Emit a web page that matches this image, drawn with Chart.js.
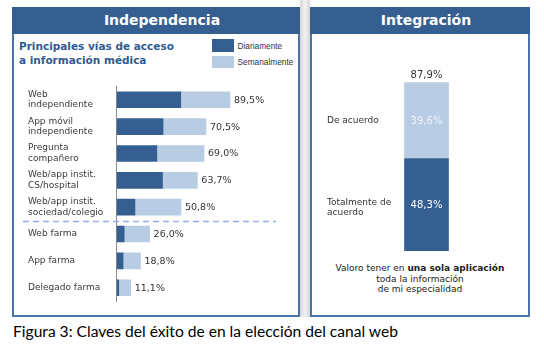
<!DOCTYPE html>
<html>
<head>
<meta charset="utf-8">
<script src="https://cdn.jsdelivr.net/npm/chart.js@4/dist/chart.umd.min.js"></script>
<style>
  body { margin: 0; width: 544px; height: 345px; background: #fff; position: relative; overflow: hidden; font-family: "DejaVu Sans", sans-serif; }
  .panel { position: absolute; top: 7px; height: 310px; box-sizing: border-box; border: 2px solid #4d74a8; }
  .left { left: 12px; width: 288px; background: linear-gradient(#f2f2f2, #fff 30px); }
  .right { left: 310px; width: 220px; background: linear-gradient(#e4e4e4, #fff 32px); }
  .head { position: absolute; top: -2px; left: -2px; right: -2px; height: 27px; background: #365f91; color: #fff;
          font: bold 14px "DejaVu Sans"; line-height: 27px; text-align: center; padding-left: 12px; box-sizing: border-box; }
  .gap { position: absolute; left: 300px; top: 0; width: 10px; height: 317px; background: linear-gradient(90deg, #d6d6d6, #f2f2f2, #d6d6d6); }
  .title { position: absolute; left: 19px; top: 39px; font: bold 10.5px "DejaVu Sans"; line-height: 14px; color: #2f5b92; }
  .sw { position: absolute; left: 212px; width: 22px; }
  .lg { position: absolute; left: 237.5px; font: 8.3px "Liberation Sans"; color: #333; line-height: 10px; }
  .cap { position: absolute; left: 311px; width: 218px; top: 263px; text-align: center; font: 9px "DejaVu Sans"; line-height: 10.5px; color: #222; }
  .fig { position: absolute; left: 13px; top: 322px; font: 15.6px Lato; color: #000; white-space: nowrap; }
  canvas { position: absolute; }
</style>
</head>
<body>
<div class="gap"></div>
<div class="panel left"><div class="head">Independencia</div></div>
<div class="panel right"><div class="head">Integración</div></div>

<div class="title">Principales vías de acceso<br>a información médica</div>
<div class="sw" style="top:39px;height:13px;background:#365f91"></div>
<div class="sw" style="top:56px;height:12px;background:#b8cce4"></div>
<div class="lg" style="top:40.5px">Diariamente</div>
<div class="lg" style="top:57px">Semanalmente</div>

<canvas id="accesoChart" width="284" height="232" style="left:14px;top:80px"></canvas>
<canvas id="integracionChart" width="216" height="201" style="left:312px;top:50px"></canvas>

<div class="cap">Valoro tener en <b>una sola aplicación</b><br>toda la información<br>de mi especialidad</div>
<div class="fig">Figura 3: Claves del éxito de en la elección del canal web</div>

<script>
const categorias = [
  ["Web", "independiente"],
  ["App móvil", "independiente"],
  ["Pregunta", "compañero"],
  ["Web/app instit.", "CS/hospital"],
  ["Web/app instit.", "sociedad/colegio"],
  "Web farma",
  "App farma",
  "Delegado farma"
];
const totales = [89.5, 70.5, 69.0, 63.7, 50.8, 26.0, 18.8, 11.1];
const diariamente = [50.6, 36.6, 31.7, 36.2, 14.4, 5.9, 5.0, 1.6];
const semanalmente = [38.9, 33.9, 37.3, 27.5, 36.4, 20.1, 13.8, 9.5];

const acuerdoLabels = [["Totalmente de", "acuerdo"], ["De acuerdo"]];
const totalmenteDeAcuerdo = [48.3];
const deAcuerdo = [39.6];

const DARK = "#365f91";
const LIGHT = "#b8cce4";

Chart.defaults.font.family = "DejaVu Sans";
Chart.defaults.color = "#3a3a3a";

function pct(v) {
  return v.toFixed(1).replace(".", ",") + "%";
}

// value at the end of each stacked bar + dashed separator
const endLabels = {
  id: "endLabels",
  afterDatasetsDraw(chart) {
    const { ctx } = chart;
    const meta = chart.getDatasetMeta(1);
    ctx.save();
    ctx.font = '9.5px "DejaVu Sans"';
    ctx.fillStyle = "#333";
    ctx.textAlign = "left";
    ctx.textBaseline = "middle";
    meta.data.forEach((bar, i) => {
      ctx.fillText(pct(totales[i]), bar.x + 4, bar.y + 0.5);
    });

    const y = chart.scales.y;
    const sepY = Math.round((y.getPixelForValue(4) + y.getPixelForValue(5)) / 2) + 0.5;
    ctx.strokeStyle = "#8fb0da";
    ctx.lineWidth = 1.3;
    ctx.setLineDash([6, 4]);
    ctx.beginPath();
    ctx.moveTo(9, sepY);
    ctx.lineTo(262, sepY);
    ctx.stroke();
    ctx.restore();
  }
};

new Chart(document.getElementById("accesoChart"), {
  type: "bar",
  data: {
    labels: categorias,
    datasets: [
      { label: "Diariamente", data: diariamente, backgroundColor: DARK, barThickness: 16 },
      { label: "Semanalmente", data: semanalmente, backgroundColor: LIGHT, barThickness: 16 }
    ]
  },
  options: {
    indexAxis: "y",
    responsive: false,
    animation: false,
    layout: { padding: { left: 14, right: 54.7, top: 6.3, bottom: 6.5 } },
    plugins: { legend: { display: false }, tooltip: { enabled: false } },
    scales: {
      x: { stacked: true, display: false, min: 0, max: 100 },
      y: {
        stacked: true,
        grid: { display: false, drawTicks: false },
        border: { display: true, color: "#8c8c8c", width: 1 },
        ticks: { crossAlign: "far", padding: 0, font: { size: 9, lineHeight: 1.2 }, color: "#3a3a3a" },
        afterFit(scale) { scale.width = 88.7; }
      }
    }
  },
  plugins: [endLabels]
});

// labels beside and inside the single stacked column
const columnLabels = {
  id: "columnLabels",
  afterDatasetsDraw(chart) {
    const { ctx } = chart;
    ctx.save();
    ctx.textBaseline = "middle";
    let top = null;
    chart.data.datasets.forEach((ds, d) => {
      const bar = chart.getDatasetMeta(d).data[0];
      const mid = (bar.y + bar.base) / 2;
      // side label
      ctx.font = '9px "DejaVu Sans"';
      ctx.fillStyle = "#333";
      ctx.textAlign = "left";
      const lines = acuerdoLabels[d];
      lines.forEach((t, k) => {
        ctx.fillText(t, 15, mid + (k - (lines.length - 1) / 2) * 10.7 + (lines.length > 1 ? 3 : 0));
      });
      // inside value
      ctx.font = '10px "DejaVu Sans"';
      ctx.fillStyle = d === 0 ? "#ffffff" : "#eef3f9";
      ctx.textAlign = "center";
      ctx.fillText(pct(ds.data[0]), bar.x, mid + 1);
      top = bar;
    });
    const total = totalmenteDeAcuerdo[0] + deAcuerdo[0];
    ctx.font = '10px "DejaVu Sans"';
    ctx.fillStyle = "#333";
    ctx.textAlign = "center";
    ctx.fillText(pct(total), top.x, top.y - 7);
    ctx.restore();
  }
};

new Chart(document.getElementById("integracionChart"), {
  type: "bar",
  data: {
    labels: [""],
    datasets: [
      { label: "Totalmente de acuerdo", data: totalmenteDeAcuerdo, backgroundColor: DARK, barThickness: 44 },
      { label: "De acuerdo", data: deAcuerdo, backgroundColor: LIGHT, barThickness: 44 }
    ]
  },
  options: {
    responsive: false,
    animation: false,
    layout: { padding: { left: 71, right: 58, top: 9.5, bottom: 0 } },
    plugins: { legend: { display: false }, tooltip: { enabled: false } },
    scales: {
      x: {
        stacked: true,
        grid: { display: false, drawTicks: false },
        ticks: { display: false },
        border: { display: true, color: "#9a9a9a", width: 1 }
      },
      y: { stacked: true, display: false, min: 0, max: 100 }
    }
  },
  plugins: [columnLabels]
});
</script>
</body>
</html>
